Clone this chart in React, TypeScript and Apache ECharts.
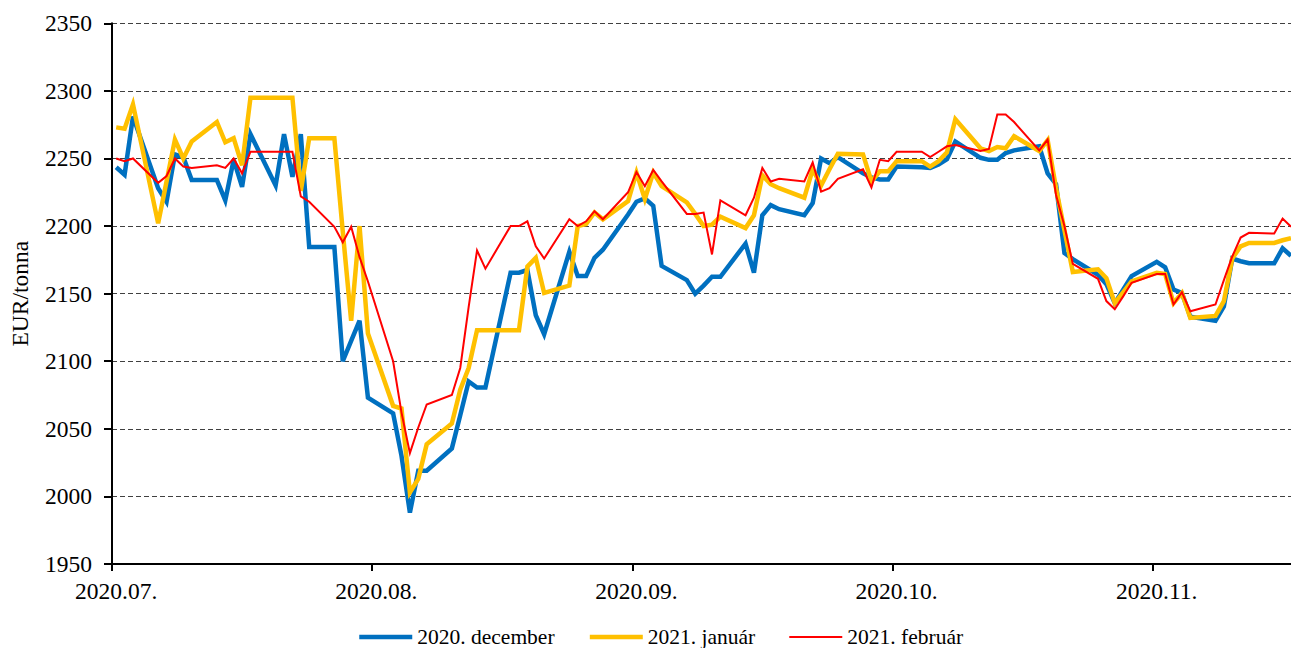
import React, { useEffect, useRef } from 'react';
import * as echarts from 'echarts';

// Trading days (2020)
const dates = [
  '2020-07-01', '2020-07-02', '2020-07-03', '2020-07-06', '2020-07-07', '2020-07-08', '2020-07-09', '2020-07-10',
  '2020-07-13', '2020-07-14', '2020-07-15', '2020-07-16', '2020-07-17', '2020-07-20', '2020-07-21', '2020-07-22',
  '2020-07-23', '2020-07-24', '2020-07-27', '2020-07-28', '2020-07-29', '2020-07-30', '2020-07-31',
  '2020-08-03', '2020-08-04', '2020-08-05', '2020-08-06', '2020-08-07', '2020-08-10', '2020-08-11', '2020-08-12',
  '2020-08-13', '2020-08-14', '2020-08-17', '2020-08-18', '2020-08-19', '2020-08-20', '2020-08-21', '2020-08-24',
  '2020-08-25', '2020-08-26', '2020-08-27', '2020-08-28', '2020-08-31',
  '2020-09-01', '2020-09-02', '2020-09-03', '2020-09-04', '2020-09-07', '2020-09-08', '2020-09-09', '2020-09-10',
  '2020-09-11', '2020-09-14', '2020-09-15', '2020-09-16', '2020-09-17', '2020-09-18', '2020-09-21', '2020-09-22',
  '2020-09-23', '2020-09-24', '2020-09-25', '2020-09-28', '2020-09-29', '2020-09-30',
  '2020-10-01', '2020-10-02', '2020-10-05', '2020-10-06', '2020-10-07', '2020-10-08', '2020-10-09', '2020-10-12',
  '2020-10-13', '2020-10-14', '2020-10-15', '2020-10-16', '2020-10-19', '2020-10-20', '2020-10-21', '2020-10-22',
  '2020-10-23', '2020-10-26', '2020-10-27', '2020-10-28', '2020-10-29', '2020-10-30',
  '2020-11-02', '2020-11-03', '2020-11-04', '2020-11-05', '2020-11-06', '2020-11-09', '2020-11-10', '2020-11-11',
  '2020-11-12', '2020-11-13', '2020-11-16', '2020-11-17', '2020-11-18',
];

// EUR/tonna, contract 2020. december
const dec2020 = [
  2243.5, 2238, 2281, 2228, 2218, 2253, 2251, 2234, 2234, 2219, 2249, 2229, 2268, 2230, 2268, 2236.5, 2268, 2184.5, 2184.5, 2100, 2115, 2130, 2073,
  2061.5, 2030, 1988, 2019, 2019, 2035.5, 2060, 2085, 2080.5, 2080.5, 2165.5, 2165.5, 2167.5, 2134, 2120, 2181, 2163, 2163, 2176.5, 2182.5, 2208.5,
  2218, 2220.5, 2215, 2170.5, 2160, 2150, 2156, 2162.5, 2162.5, 2187, 2165.5, 2208, 2215.5, 2212.5, 2208, 2217, 2250, 2246.5, 2251, 2239, 2236, 2234.5,
  2234.5, 2244, 2243.5, 2243, 2245.5, 2249.5, 2262.5, 2250.5, 2249, 2249, 2254, 2256, 2259, 2239, 2231, 2180, 2175.5, 2164, 2157, 2143, 2153, 2163,
  2173.5, 2169.5, 2153, 2150.5, 2133, 2130, 2140.5, 2176, 2174, 2172.5, 2172.5, 2183.5, 2178,
];

// contract 2021. január
const jan2021 = [
  2273, 2272, 2290, 2202, 2233, 2264, 2250, 2262.5, 2277, 2262, 2265, 2245, 2295, 2295, 2295, 2295, 2226, 2265, 2265, 2196, 2130, 2200, 2120.5,
  2067, 2065, 2003, 2013, 2038.5, 2054, 2079, 2095, 2123, 2123, 2123, 2123, 2170, 2176.5, 2150.5, 2156, 2200, 2201.5, 2210, 2205, 2218.5,
  2239.5, 2220, 2239.5, 2229.5, 2217.5, 2209, 2200, 2201, 2207, 2198.5, 2208, 2237.5, 2231, 2228, 2221, 2242, 2230, 2242, 2253.5, 2253, 2233, 2240.5,
  2240.5, 2248, 2248, 2244, 2248, 2254.5, 2279, 2257.5, 2255.5, 2258.5, 2257.5, 2266.5, 2255.5, 2263.5, 2228, 2197, 2166, 2168, 2161.5, 2143, 2151, 2159,
  2165.5, 2164.5, 2143, 2150.5, 2132, 2133.5, 2144.5, 2176, 2185, 2187.5, 2187.5, 2189.5, 2191,
];

// contract 2021. február
const feb2021 = [
  2250, 2248, 2250, 2232, 2237, 2250, 2244, 2243, 2245, 2243, 2250, 2239, 2255, 2255, 2255, 2255, 2222, 2218, 2199.5, 2188, 2199.5, 2177, 2159,
  2100, 2062, 2032, 2051, 2068, 2075, 2095, 2140, 2182, 2168.5, 2200, 2200, 2203.5, 2185, 2176, 2205, 2200, 2203.5, 2211, 2205, 2225,
  2240, 2229.5, 2241.5, 2233, 2209, 2209, 2210, 2179, 2219, 2208, 2221, 2243, 2233, 2235, 2233, 2247, 2225.5, 2228, 2235, 2242, 2228.5, 2249,
  2248, 2255, 2255, 2251, 2255, 2259, 2260, 2255.5, 2257, 2282.5, 2282.5, 2277, 2256, 2264, 2223, 2200, 2172, 2161, 2144.5, 2138.5, 2148, 2158,
  2164.5, 2164.5, 2142, 2151, 2137, 2142, 2160, 2177.5, 2191.5, 2195, 2194.5, 2205.5, 2199.5,
];

const seriesNames = ['2020. december', '2021. január', '2021. február'];
const seriesColors = ['#0070C0', '#FFC000', '#FF0000'];
const seriesWidths = [4.5, 4.5, 2];

const monthLabels = ['2020.07.', '2020.08.', '2020.09.', '2020.10.', '2020.11.'];
const tickStepDays = 31;
const yMin = 1950;
const yMax = 2350;
const yStep = 50;
const lastDay = 140.5;

const FONT = "'Liberation Serif', 'Times New Roman', serif";
const AXIS_FONT_SIZE = 23.5;
const LEGEND_FONT_SIZE = 21.5;
const DAY_MS = 86400000;
const start = Date.UTC(2020, 6, 1);

// x position in days from 1 July, centred within each day
function dayPos(s: string): number {
  const [y, m, d] = s.split('-').map(Number);
  return (Date.UTC(y, m - 1, d) - start) / DAY_MS + 0.5;
}

export default function App() {
  const ref = useRef<HTMLDivElement>(null);

  useEffect(() => {
    if (!ref.current) return;
    const chart = echarts.init(ref.current, null, { renderer: 'svg' });
    const xs = dates.map(dayPos);
    const tickValues = monthLabels.map((_, i) => i * tickStepDays);
    const labelValues = tickValues.map((v) => v + 0.5);
    const values = [dec2020, jan2021, feb2021];

    chart.setOption({
      animation: false,
      backgroundColor: '#ffffff',
      textStyle: { fontFamily: FONT, color: '#000' },
      grid: { left: 110, right: 0, top: 23.3, bottom: 84, containLabel: false },
      legend: {
        data: seriesNames,
        left: 352,
        top: 621,
        itemWidth: 53,
        itemHeight: 14,
        itemGap: 33,
        itemStyle: { opacity: 0 },
        lineStyle: { width: 'inherit' },
        textStyle: { fontFamily: FONT, fontSize: LEGEND_FONT_SIZE, color: '#000' },
      },
      xAxis: {
        type: 'value',
        min: 0,
        max: lastDay,
        axisLine: { show: true, lineStyle: { color: '#000', width: 2 } },
        axisTick: {
          show: true,
          length: 7,
          customValues: tickValues,
          lineStyle: { color: '#000', width: 2 },
        },
        axisLabel: {
          customValues: labelValues,
          margin: 15,
          fontFamily: FONT,
          fontSize: AXIS_FONT_SIZE,
          color: '#000',
          formatter: (v: number) => monthLabels[Math.round((v - 0.5) / tickStepDays)] ?? '',
        },
        splitLine: { show: false },
      },
      yAxis: {
        type: 'value',
        min: yMin,
        max: yMax,
        interval: yStep,
        name: 'EUR/tonna',
        nameLocation: 'middle',
        nameRotate: 90,
        nameGap: 80,
        nameTextStyle: { fontFamily: FONT, fontSize: AXIS_FONT_SIZE, color: '#000' },
        axisLine: { show: true, lineStyle: { color: '#000', width: 2 } },
        axisTick: { show: true, length: 8, lineStyle: { color: '#000', width: 2 } },
        axisLabel: {
          margin: 20,
          fontFamily: FONT,
          fontSize: AXIS_FONT_SIZE,
          color: '#000',
          formatter: (v: number) => String(v),
        },
        splitLine: { show: true, lineStyle: { color: '#404040', width: 1.2, type: [5, 3] } },
      },
      series: values.map((vals, i) => ({
        name: seriesNames[i],
        type: 'line',
        symbol: 'none',
        data: vals.map((v, j) => [xs[j], v]),
        lineStyle: { color: seriesColors[i], width: seriesWidths[i], join: 'miter' },
        itemStyle: { color: seriesColors[i] },
        emphasis: { disabled: true },
        z: 2 + i,
      })),
    });

    return () => chart.dispose();
  }, []);

  return (
    <div
      ref={ref}
      style={{ position: 'fixed', left: 0, top: 0, width: 1291, height: 648, background: '#fff' }}
    />
  );
}
